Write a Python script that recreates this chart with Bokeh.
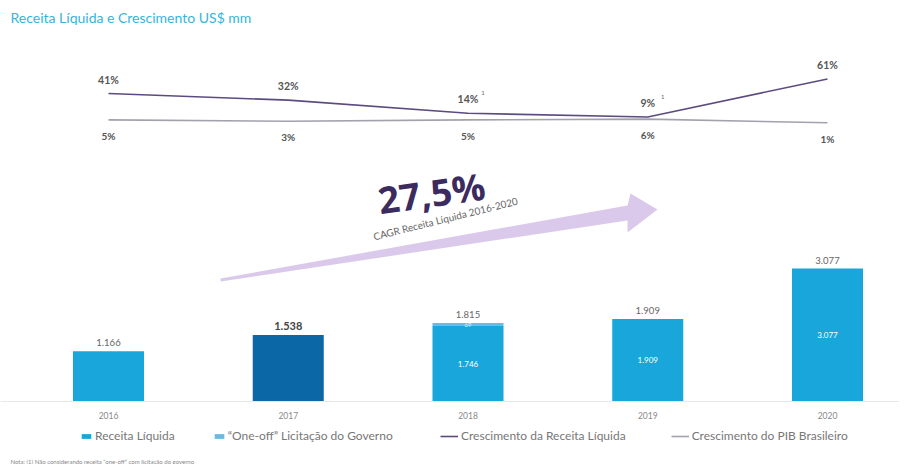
from bokeh.plotting import figure
from bokeh.models import Range1d, ColumnDataSource, Legend, LegendItem, Label, Span
from bokeh.core.properties import value
from bokeh.embed import file_html
from bokeh.resources import INLINE

# ---------------- data ----------------
years = ["2016", "2017", "2018", "2019", "2020"]
receita = [1166, 1538, 1746, 1909, 3077]
one_off = [0, 0, 69, 0, 0]
cresc_receita = [41, 32, 14, 9, 61]
cresc_pib = [5, 3, 5, 6, 1]
nota_receita = ["", "", "1", "1", ""]
bar_colors = ["#19a7db", "#0b67a6", "#19a7db", "#19a7db", "#19a7db"]
cagr_text = "27,5%"
cagr_sub = "CAGR Receita Líquida 2016-2020"

def fmt(v):
    return f"{v:,}".replace(",", ".")

W, H = 899, 464
X0 = 108.0          # screen px of first category centre
DX = 179.75         # px per category
K = 0.0432          # px per US$ mm
BASE = H - 401.0    # px of bar baseline above bottom
M = 0.73            # px per % for growth
ZERO = H - 123.0    # px of 0% above bottom

FONT = "Lato"

x = list(range(len(years)))
tot = [a + b for a, b in zip(receita, one_off)]
src = ColumnDataSource(dict(
    x=x, years=years, receita=receita, one_off=one_off, tot=tot,
    top_lbl=[fmt(t) for t in tot],
    top_size=["11px" if i == 1 else "9.5px" for i in x],
    top_style=["bold" if i == 1 else "normal" for i in x],
    top_color=["#444444" if i == 1 else "#666666" for i in x],
    in_lbl=["" if i < 2 else fmt(r) for i, r in enumerate(receita)],
    in_y=[r / 2 for r in receita],
    off_lbl=[fmt(o) if o else "" for o in one_off],
    off_y=[r + o / 2 for r, o in zip(receita, one_off)],
    colors=bar_colors,
    cr=cresc_receita, cp=cresc_pib,
    cr_lbl=[f"{v}%" for v in cresc_receita],
    cp_lbl=[f"{v}%" for v in cresc_pib],
    nota=nota_receita,
    zero=[0] * len(years),
))

p = figure(width=W, height=H, output_backend="svg", toolbar_location=None,
           x_range=Range1d(-X0 / DX, (W - X0) / DX),
           y_range=Range1d(-BASE / K, (H - BASE) / K),
           x_axis_type=None, y_axis_type=None, min_border=0)
p.extra_y_ranges = {"g": Range1d(-ZERO / M, (H - ZERO) / M)}
p.outline_line_color = None
p.grid.visible = False
p.background_fill_color = "white"

def px_x(px):
    return (px - X0) / DX

def px_y(py):
    return (401 - py) / K

# baseline
p.add_layout(Span(location=0, dimension="width", line_color="#e8e8e8", line_width=1))

# CAGR arrow (decoration)
ax = [220, 627, 627, 657, 630, 627, 220]
ay = [281, 220, 232, 209, 193, 205, 278]
p.patch([px_x(v) for v in ax], [px_y(v) for v in ay], fill_color="#d7c3ea",
        line_color=None, fill_alpha=0.9)
p.text(x=[px_x(431)], y=[px_y(192)], text=[cagr_text], angle=0.14,
       text_font=value("Open Sans"), text_font_style="bold", text_font_size="37px",
       text_color="#3b2b5f", text_align="center", text_baseline="middle")
p.text(x=[px_x(445)], y=[px_y(218)], text=[cagr_sub], angle=0.245,
       text_font=value(FONT), text_font_size="10px",
       text_color="#666666", text_align="center", text_baseline="middle")

# bars
bw = 71 / DX
r_bar = p.vbar(x="x", top="receita", bottom=0, width=bw, fill_color="colors",
               line_color=None, source=src)
r_off = p.vbar(x="x", top="tot", bottom="receita", width=bw, fill_color="#6cb9e2",
               line_color=None, source=src)

# bar labels
p.text(x="x", y="tot", text="top_lbl", source=src, y_offset=-5,
       text_font=value(FONT), text_font_size="top_size", text_font_style="top_style",
       text_color="top_color", text_align="center", text_baseline="bottom")
p.text(x="x", y="in_y", text="in_lbl", source=src,
       text_font=value(FONT), text_font_size="8px", text_color="white",
       text_align="center", text_baseline="middle")
p.text(x="x", y="off_y", text="off_lbl", source=src,
       text_font=value(FONT), text_font_size="6px", text_color="#dff2fb",
       text_align="center", text_baseline="middle")
p.text(x="x", y="zero", text="years", source=src, y_offset=10,
       text_font=value(FONT), text_font_size="8.5px", text_color="#8a8a8a",
       text_align="center", text_baseline="top")

# growth lines
r_cr = p.line(x="x", y="cr", source=src, y_range_name="g", line_color="#5d4b80",
              line_width=1.6)
r_cp = p.line(x="x", y="cp", source=src, y_range_name="g", line_color="#a3a1ae",
              line_width=1.6)
p.text(x="x", y="cr", text="cr_lbl", source=src, y_range_name="g", y_offset=-8,
       text_font=value(FONT), text_font_style="bold", text_font_size="10.5px",
       text_color="#555555", text_align="center", text_baseline="bottom")
p.text(x="x", y="cr", text="nota", source=src, y_range_name="g", y_offset=-18,
       x_offset=15, text_font=value(FONT), text_font_size="6px",
       text_color="#666666", text_align="center", text_baseline="bottom")
p.text(x="x", y="cp", text="cp_lbl", source=src, y_range_name="g", y_offset=10,
       text_font=value(FONT), text_font_style="bold", text_font_size="10px",
       text_color="#555555", text_align="center", text_baseline="top")

# legends
leg_common = dict(orientation="horizontal", padding=0, margin=0,
                  glyph_height=6, label_text_font=FONT,
                  label_text_font_size="12px", label_text_color="#777777",
                  label_standoff=3, background_fill_alpha=0, border_line_color=None,
                  label_height=12)
leg1 = Legend(items=[LegendItem(label="Receita Líquida", renderers=[r_bar], index=0),
                     LegendItem(label="\u201cOne-off\u201d Licitação do Governo",
                                renderers=[r_off], index=2)],
              location=(80, 21), spacing=38, glyph_width=12, **leg_common)
leg2 = Legend(items=[LegendItem(label="Crescimento da Receita Líquida", renderers=[r_cr]),
                     LegendItem(label="Crescimento do PIB Brasileiro", renderers=[r_cp])],
              location=(440, 21), spacing=45, glyph_width=18, **leg_common)
p.add_layout(leg1, "center")
p.add_layout(leg2, "center")

# title & footnote
p.add_layout(Label(x=10, y=H - 17, x_units="screen", y_units="screen",
                   text="Receita Líquida e Crescimento US$ mm", text_font=FONT,
                   text_font_size="14px", text_color="#35b5db",
                   text_baseline="middle"))
p.add_layout(Label(x=10, y=H - 461, x_units="screen", y_units="screen",
                   text="Nota: (1) Não considerando receita \u201cone-off\u201d com licitação do governo",
                   text_font=FONT, text_font_size="6px", text_color="#888888",
                   text_baseline="middle"))

open("out.html", "w").write(file_html(p, INLINE))
